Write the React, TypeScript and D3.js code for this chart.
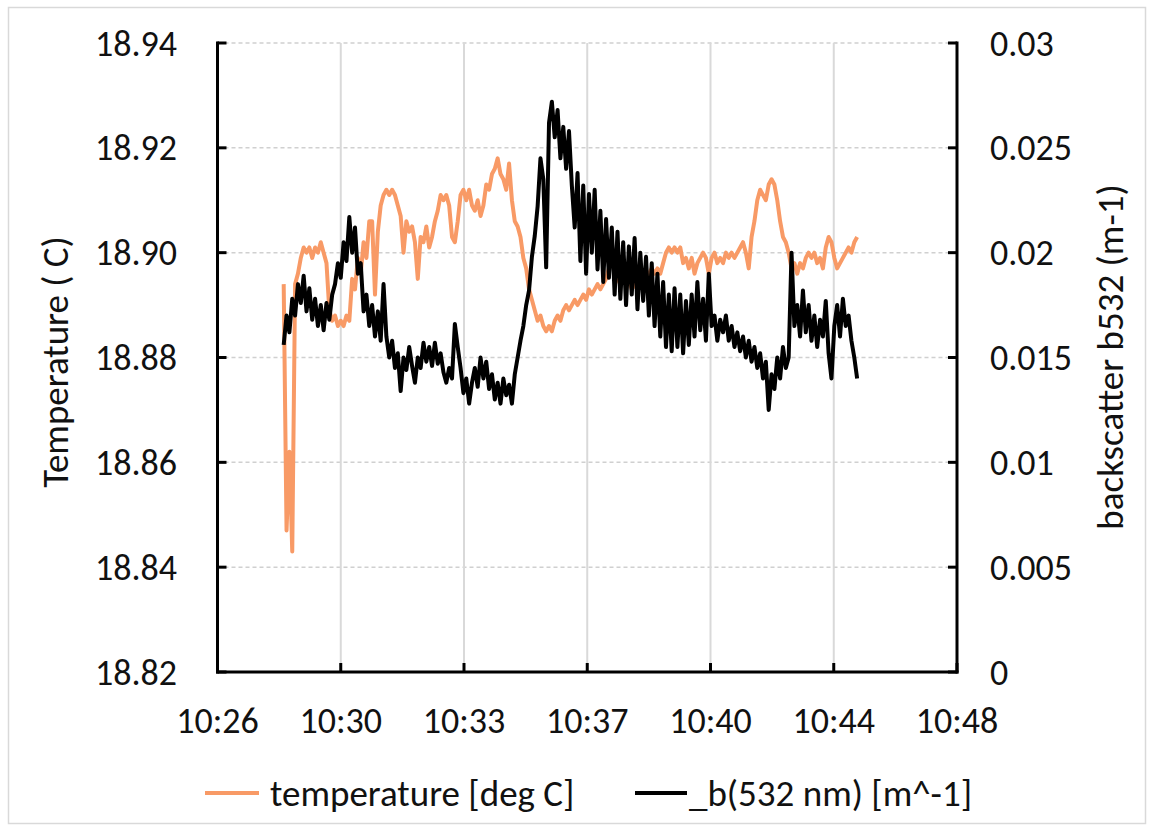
import React from "react";
import * as d3 from "d3";

// ---- Data (time in minutes since midnight; samples every 5 s from 10:28:20) ----
const START_MIN = 628 + 20 / 60;
const STEP_SEC = 5;

const temperature: number[] = [
  18.894, 18.847, 18.862, 18.843, 18.894, 18.896, 18.899, 18.901, 18.900, 18.901,
  18.899, 18.901, 18.900, 18.902, 18.900, 18.898, 18.889, 18.887, 18.888, 18.886,
  18.887, 18.886, 18.888, 18.887, 18.895, 18.893, 18.899, 18.896, 18.902, 18.899,
  18.906, 18.906, 18.892, 18.904, 18.909, 18.911, 18.912, 18.911, 18.912, 18.911,
  18.909, 18.907, 18.900, 18.906, 18.904, 18.905, 18.902, 18.895, 18.903, 18.902,
  18.905, 18.901, 18.903, 18.906, 18.908, 18.911, 18.910, 18.911, 18.909, 18.903,
  18.902, 18.906, 18.911, 18.912, 18.910, 18.912, 18.909, 18.908, 18.910, 18.907,
  18.909, 18.913, 18.912, 18.915, 18.916, 18.918, 18.915, 18.914, 18.912, 18.917,
  18.910, 18.906, 18.905, 18.903, 18.899, 18.897, 18.893, 18.891, 18.889, 18.887,
  18.888, 18.886, 18.885, 18.886, 18.885, 18.887, 18.888, 18.887, 18.889, 18.890,
  18.889, 18.890, 18.891, 18.890, 18.891, 18.892, 18.891, 18.893, 18.892, 18.893,
  18.894, 18.893, 18.894, 18.895, 18.897, 18.898, 18.897, 18.895, 18.894, 18.895,
  18.894, 18.895, 18.893, 18.894, 18.893, 18.895, 18.894, 18.895, 18.896, 18.897,
  18.896, 18.897, 18.896, 18.898, 18.900, 18.901, 18.900, 18.901, 18.900, 18.901,
  18.898, 18.899, 18.897, 18.899, 18.896, 18.898, 18.899, 18.900, 18.899, 18.896,
  18.899, 18.900, 18.898, 18.899, 18.898, 18.900, 18.899, 18.900, 18.899, 18.900,
  18.901, 18.902, 18.900, 18.897, 18.903, 18.906, 18.910, 18.912, 18.911, 18.910,
  18.913, 18.914, 18.913, 18.910, 18.906, 18.903, 18.902, 18.900, 18.897, 18.898,
  18.896, 18.898, 18.897, 18.899, 18.900, 18.899, 18.900, 18.898, 18.899, 18.897,
  18.901, 18.903, 18.902, 18.899, 18.897, 18.898, 18.899, 18.900, 18.901, 18.900,
  18.902, 18.903,
];

const backscatter: number[] = [
  0.0156, 0.0170, 0.0162, 0.0178, 0.0170, 0.0185, 0.0176, 0.0189, 0.0172, 0.0183,
  0.0168, 0.0178, 0.0165, 0.0175, 0.0163, 0.0176, 0.0168, 0.0180, 0.0185, 0.0195,
  0.0188, 0.0205, 0.0196, 0.0217, 0.0200, 0.0212, 0.0190, 0.0195, 0.0172, 0.0180,
  0.0165, 0.0175, 0.0160, 0.0172, 0.0158, 0.0185, 0.0160, 0.0150, 0.0158, 0.0145,
  0.0152, 0.0134, 0.0150, 0.0144, 0.0155, 0.0146, 0.0138, 0.0150, 0.0145, 0.0157,
  0.0148, 0.0155, 0.0146, 0.0157, 0.0147, 0.0152, 0.0143, 0.0138, 0.0145, 0.0140,
  0.0166, 0.0155, 0.0145, 0.0133, 0.0140, 0.0128, 0.0138, 0.0145, 0.0136, 0.0150,
  0.0140, 0.0148, 0.0135, 0.0142, 0.0130, 0.0138, 0.0128, 0.0140, 0.0132, 0.0137,
  0.0128, 0.0142, 0.0150, 0.0158, 0.0165, 0.0175, 0.0182, 0.0198, 0.0208, 0.0222,
  0.0245, 0.0235, 0.0193, 0.0262, 0.0272, 0.0255, 0.0268, 0.0245, 0.0260, 0.0240,
  0.0258, 0.0232, 0.0212, 0.0238, 0.0196, 0.0232, 0.0190, 0.0228, 0.0200, 0.0230,
  0.0192, 0.0220, 0.0186, 0.0216, 0.0188, 0.0212, 0.0180, 0.0210, 0.0178, 0.0205,
  0.0175, 0.0203, 0.0180, 0.0207, 0.0173, 0.0200, 0.0177, 0.0198, 0.0170, 0.0195,
  0.0165, 0.0190, 0.0160, 0.0186, 0.0155, 0.0180, 0.0153, 0.0183, 0.0155, 0.0180,
  0.0152, 0.0177, 0.0156, 0.0180, 0.0160, 0.0186, 0.0163, 0.0178, 0.0158, 0.0190,
  0.0165, 0.0170, 0.0158, 0.0168, 0.0162, 0.0170, 0.0158, 0.0165, 0.0155, 0.0162,
  0.0153, 0.0160, 0.0150, 0.0158, 0.0148, 0.0155, 0.0145, 0.0152, 0.0140, 0.0148,
  0.0125, 0.0142, 0.0135, 0.0150, 0.0140, 0.0155, 0.0145, 0.0150, 0.0200, 0.0165,
  0.0175, 0.0160, 0.0182, 0.0162, 0.0175, 0.0158, 0.0170, 0.0155, 0.0168, 0.0160,
  0.0177, 0.0152, 0.0140, 0.0165, 0.0175, 0.0160, 0.0178, 0.0165, 0.0170, 0.0158,
  0.0150, 0.0140,
];

const X_TICKS = [626.4, 630.0, 633.6, 637.2, 640.8, 644.4, 648.0];
const X_TICK_LABELS = ["10:26", "10:30", "10:33", "10:37", "10:40", "10:44", "10:48"];
const Y_LEFT_TICKS = [18.82, 18.84, 18.86, 18.88, 18.9, 18.92, 18.94];
const Y_LEFT_LABELS = ["18.82", "18.84", "18.86", "18.88", "18.90", "18.92", "18.94"];
const Y_RIGHT_TICKS = [0, 0.005, 0.01, 0.015, 0.02, 0.025, 0.03];
const Y_RIGHT_LABELS = ["0", "0.005", "0.01", "0.015", "0.02", "0.025", "0.03"];

const SERIES_NAMES = ["temperature [deg C]", "_b(532 nm) [m^-1]"];

const ORANGE = "#F89A66";
const FONT = "Carlito, Calibri, 'Liberation Sans', Arial, sans-serif";

export default function App() {
  const W = 1154, H = 831;
  const L = 217.5, R = 957, T = 43, B = 672;

  const x = d3.scaleLinear().domain([626.4, 648]).range([L, R]);
  const yL = d3.scaleLinear().domain([18.82, 18.94]).range([B, T]);
  const yR = d3.scaleLinear().domain([0, 0.03]).range([B, T]);

  const tOf = (i: number) => START_MIN + (i * STEP_SEC) / 60;

  const tempLine = d3
    .line<number>()
    .x((_, i) => x(tOf(i)))
    .y((d) => yL(d));
  const bsLine = d3
    .line<number>()
    .x((_, i) => x(tOf(i)))
    .y((d) => yR(d));

  const fs = 36;
  const fsTitle = 37;
  const fsLegend = 37;

  return (
    <svg
      width={W}
      height={H}
      style={{ position: "absolute", left: 0, top: 0, background: "#fff" }}
      fontFamily={FONT}
    >
      <rect x={0} y={0} width={W} height={H} fill="#fff" />
      <rect x={8.5} y={7.5} width={1137} height={816} fill="none" stroke="#d9d9d9" strokeWidth={1.5} />

      {/* horizontal dashed gridlines */}
      {Y_LEFT_TICKS.map((v, i) => (
        <line
          key={"hg" + i}
          x1={L}
          x2={R}
          y1={yL(v)}
          y2={yL(v)}
          stroke="#d0d0d0"
          strokeWidth={1.5}
          strokeDasharray="4,3"
        />
      ))}
      {/* vertical gridlines */}
      {X_TICKS.slice(1, -1).map((v, i) => (
        <line key={"vg" + i} x1={x(v)} x2={x(v)} y1={T} y2={B} stroke="#d9d9d9" strokeWidth={2} />
      ))}

      {/* series */}
      <path d={tempLine(temperature) || ""} fill="none" stroke={ORANGE} strokeWidth={4} strokeLinejoin="round" />
      <path d={bsLine(backscatter) || ""} fill="none" stroke="#000" strokeWidth={4} strokeLinejoin="round" />

      {/* axes */}
      <line x1={L} x2={L} y1={T - 1.5} y2={B + 1.5} stroke="#000" strokeWidth={3} />
      <line x1={R} x2={R} y1={T - 1.5} y2={B + 1.5} stroke="#000" strokeWidth={3} />
      <line x1={L - 1.5} x2={R + 1.5} y1={B} y2={B} stroke="#000" strokeWidth={3} />
      {Y_LEFT_TICKS.map((v, i) => (
        <line key={"lt" + i} x1={L} x2={L + 9} y1={yL(v)} y2={yL(v)} stroke="#000" strokeWidth={3} />
      ))}
      {Y_RIGHT_TICKS.map((v, i) => (
        <line key={"rt" + i} x1={R - 9} x2={R} y1={yR(v)} y2={yR(v)} stroke="#000" strokeWidth={3} />
      ))}
      {X_TICKS.map((v, i) => (
        <line key={"xt" + i} x1={x(v)} x2={x(v)} y1={B} y2={B - 9} stroke="#000" strokeWidth={3} />
      ))}

      {/* tick labels */}
      {Y_LEFT_TICKS.map((v, i) => (
        <text key={"ll" + i} x={177} y={yL(v)} dy="0.35em" textAnchor="end" fontSize={fs} fill="#111">
          {Y_LEFT_LABELS[i]}
        </text>
      ))}
      {Y_RIGHT_TICKS.map((v, i) => (
        <text key={"rl" + i} x={990} y={yR(v)} dy="0.35em" textAnchor="start" fontSize={fs} fill="#111">
          {Y_RIGHT_LABELS[i]}
        </text>
      ))}
      {X_TICKS.map((v, i) => (
        <text key={"xl" + i} x={x(v)} y={720} dy="0.35em" textAnchor="middle" fontSize={fs} fill="#111">
          {X_TICK_LABELS[i]}
        </text>
      ))}

      {/* axis titles */}
      <text transform="translate(55,362) rotate(-90)" dy="0.35em" textAnchor="middle" fontSize={fsTitle} fill="#111">
        Temperature ( C)
      </text>
      <text transform="translate(1110,357) rotate(-90)" dy="0.35em" textAnchor="middle" fontSize={fsTitle} fill="#111">
        backscatter b532 (m-1)
      </text>

      {/* legend */}
      <line x1={205} x2={259} y1={793} y2={793} stroke={ORANGE} strokeWidth={4} />
      <text x={270} y={793} dy="0.35em" fontSize={fsLegend} fill="#111">
        {SERIES_NAMES[0]}
      </text>
      <line x1={635} x2={687} y1={793} y2={793} stroke="#000" strokeWidth={4} />
      <text x={689} y={793} dy="0.35em" fontSize={fsLegend} fill="#111">
        {SERIES_NAMES[1]}
      </text>
    </svg>
  );
}
